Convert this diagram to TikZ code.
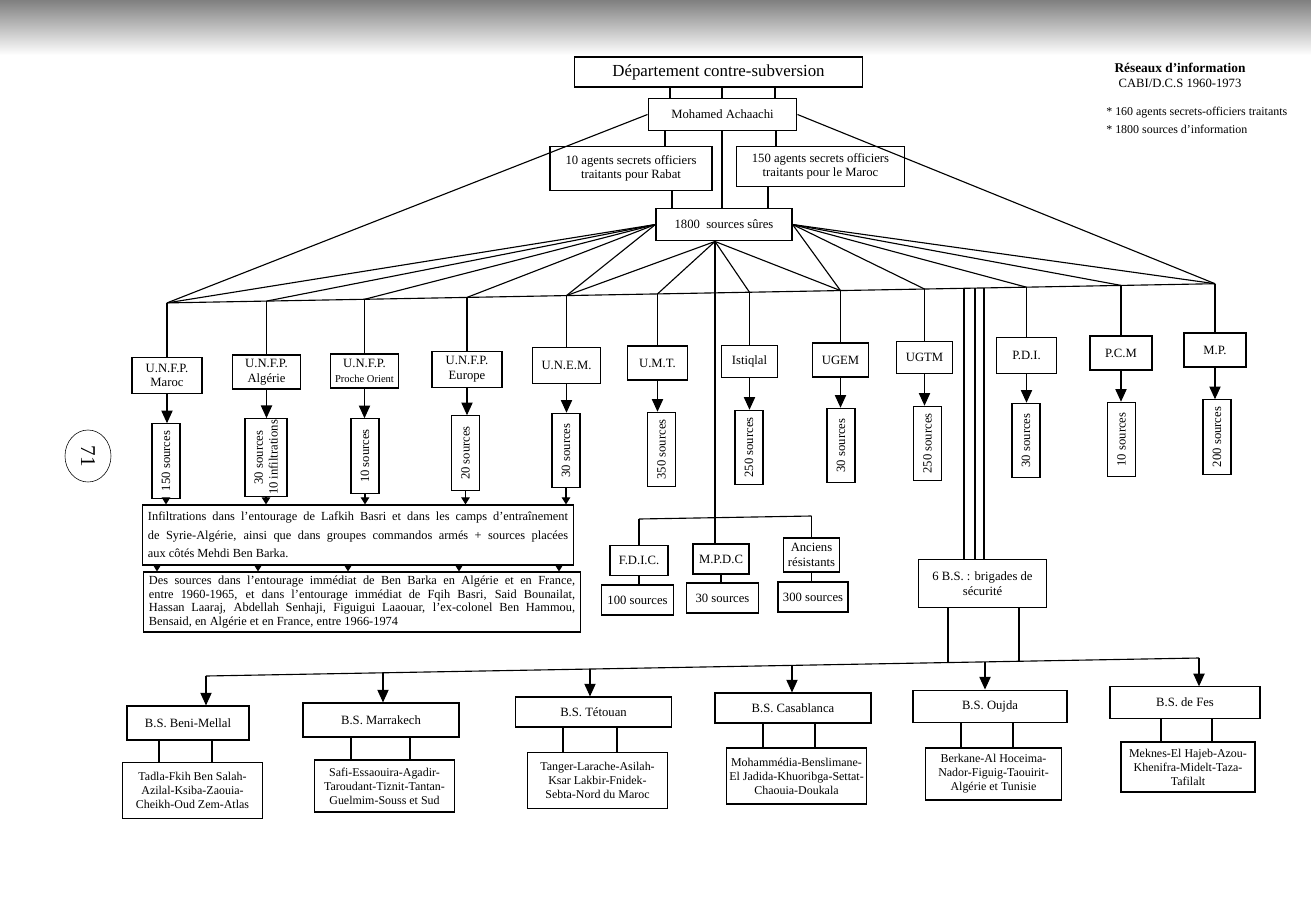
\documentclass[tikz,border=0pt]{standalone}
\usepackage{fontspec}
\setmainfont{Liberation Serif}
\usetikzlibrary{arrows.meta,calc,shapes.geometric}
\tikzset{box/.style={draw, line width=0.8pt, align=center, inner sep=1pt, font=\fontsize{9}{10.5}\selectfont},
% rotated source boxes: east is the visual top, west the visual bottom
srcbox/.style={box, rotate=90, minimum width=1.86cm, minimum height=0.7cm},
bsbox/.style={box, minimum height=0.8cm},
regbox/.style={box, font=\fontsize{8.5}{10}\selectfont},
ln/.style={line width=0.8pt},
arr/.style={line width=0.8pt, -{Triangle[length=9pt,width=8pt]}},
sarr/.style={line width=0.8pt, -{Triangle[length=5pt,width=6pt]}}}

\begin{document}
\begin{tikzpicture}[x=0.025cm,y=-0.025cm]
\useasboundingbox (0,0) rectangle (1311,922);
\fill[top color=black!50, bottom color=white] (0,0) rectangle (1311,55);

% legend
\node[font=\bfseries\fontsize{9.5}{11}\selectfont] (ttl) at (1180,68) {Réseaux d’information};
\node[font=\fontsize{9}{10}\selectfont] (per) at (1180,83) {CABI/D.C.S 1960-1973};
\node[font=\fontsize{8.5}{10}\selectfont, anchor=west, inner sep=0pt] (b1) at (1106,113) {* 160 agents secrets-officiers traitants};
\node[font=\fontsize{8.5}{10}\selectfont, anchor=west, inner sep=0pt] (b2) at (1106,129) {* 1800 sources d’information};

% page number
\node[draw, ellipse, minimum width=1.15cm, minimum height=1.3cm, inner sep=0pt, font=\fontsize{15}{16}\selectfont] (pg) at (88,456) {\rotatebox{-90}{71}};

% top of the chart
\node[box, font=\fontsize{12}{14}\selectfont, minimum width=7.18cm, minimum height=0.75cm] (dep) at (718.5,72) {Département contre-subversion};
\node[box, minimum width=3.72cm, minimum height=0.78cm] (moh) at (722.5,114.5) {Mohamed Achaachi};
\node[box, minimum width=4.05cm, minimum height=1.08cm] (rabat) at (631,168.5) {10 agents secrets officiers\\traitants pour Rabat};
\node[box, minimum width=4.22cm, minimum height=1.02cm] (maroc) at (820.5,166.5) {150 agents secrets officiers\\traitants pour le Maroc};
\node[box, minimum width=3.4cm, minimum height=0.82cm] (sures) at (724,224.5) {1800~~sources sûres};

\foreach \x in {670,722,775}
  \draw[ln] (\x,0 |- dep.south) -- (\x,0 |- moh.north);
\draw[ln] (665,0 |- moh.south) -- (665,0 |- rabat.north);
\draw[ln] (776,0 |- moh.south) -- (776,0 |- maroc.north);
\draw[ln] (722,0 |- moh.south) -- (722,0 |- sures.north);
\draw[ln] (672,0 |- rabat.south) -- (672,0 |- sures.north);
\draw[ln] (768,0 |- maroc.south) -- (768,0 |- sures.north);

% organisations
\node[box, minimum width=1.75cm, minimum height=0.88cm] (umar) at (167,375.5) {U.N.F.P.\\Maroc};
\node[box, minimum width=1.72cm, minimum height=0.85cm] (ualg) at (266.5,372) {U.N.F.P.\\Algérie};
\node[box, minimum width=1.72cm, minimum height=0.85cm] (upo) at (364.5,371) {U.N.F.P.\\{\fontsize{7.5}{8.5}\selectfont Proche Orient}};
\node[box, minimum width=1.75cm, minimum height=0.88cm] (ueur) at (467,369.5) {U.N.F.P.\\Europe};
\node[box, minimum width=1.72cm, minimum height=0.88cm] (unem) at (566.5,365.5) {U.N.E.M.};
\node[box, minimum width=1.52cm, minimum height=0.85cm] (umt) at (657.5,363) {U.M.T.};
\node[box, minimum width=1.42cm, minimum height=0.82cm] (ist) at (749.5,361.5) {Istiqlal};
\node[box, minimum width=1.42cm, minimum height=0.85cm] (ugem) at (840.5,360) {UGEM};
\node[box, minimum width=1.42cm, minimum height=0.82cm] (ugtm) at (924.5,357.5) {UGTM};
\node[box, minimum width=1.52cm, minimum height=0.88cm] (pdi) at (1026.5,355.5) {P.D.I.};
\node[box, minimum width=1.55cm, minimum height=0.85cm] (pcm) at (1121,353) {P.C.M};
\node[box, minimum width=1.55cm, minimum height=0.85cm] (mp) at (1215,350) {M.P.};

% bus
\coordinate (jmar) at (167,302.9);
\coordinate (jalg) at (266.5,301.1);
\coordinate (jpo) at (364.5,299.3);
\coordinate (jeur) at (467,297.4);
\coordinate (junem) at (566.5,295.6);
\coordinate (jumt) at (657.5,293.9);
\coordinate (jist) at (749.5,292.3);
\coordinate (jugem) at (840.5,290.6);
\coordinate (jugtm) at (924.5,289.0);
\coordinate (jpdi) at (1026.5,287.2);
\coordinate (jpcm) at (1121,285.4);
\coordinate (jmp) at (1215,283.7);
\draw[ln] (jmar) -- (jmp);
\foreach \j/\n in {jmar/umar,jalg/ualg,jpo/upo,jeur/ueur,junem/unem,jumt/umt,jist/ist,jugem/ugem,jugtm/ugtm,jpdi/pdi,jpcm/pcm,jmp/mp}
  \draw[ln] (\j) -- (\n.north);
\draw[ln] (moh.west) -- (jmar);
\draw[ln] (moh.east) -- (jmp);
\foreach \j in {jmar,jalg,jpo,jeur,junem}
  \draw[ln] (sures.west) -- (\j);
\coordinate (sb) at ($(sures.south)+(-9,0)$);
\foreach \j in {junem,jumt,jist,jugem}
  \draw[ln] (sb) -- (\j);
\foreach \j in {jugem,jugtm,jpdi,jpcm,jmp}
  \draw[ln] (sures.east) -- (\j);

% sources
\node[srcbox] (s1) at (166,461) {150 sources};
\node[srcbox, minimum height=1.05cm] (s2) at (266,457.5) {30 sources\\10 infiltrations};
\node[srcbox] (s3) at (365,456) {10 sources};
\node[srcbox] (s4) at (465.5,453) {20 sources};
\node[srcbox] (s5) at (566,450.5) {30 sources};
\node[srcbox] (s6) at (661.5,449.5) {350 sources};
\node[srcbox] (s7) at (749,447.5) {250 sources};
\node[srcbox] (s8) at (841,445.5) {30 sources};
\node[srcbox] (s9) at (927.5,443.5) {250 sources};
\node[srcbox] (s10) at (1026,440.5) {30 sources};
\node[srcbox] (s11) at (1121.5,439.5) {10 sources};
\node[srcbox] (s12) at (1217,437) {200 sources};
\foreach \a/\b in {umar/s1,ualg/s2,upo/s3,ueur/s4,unem/s5,umt/s6,ist/s7,ugem/s8,ugtm/s9,pdi/s10,pcm/s11,mp/s12}
  \draw[arr] (\a.south) -- (\a.south |- \b.east);

% infiltrations
\node[box, align=justify, text width=10.5cm, minimum height=1.5cm, inner xsep=4pt, font=\fontsize{8.8}{13}\selectfont] (inf) at (358,535) {Infiltrations dans l’entourage de Lafkih Basri et dans les camps d’entraînement\linebreak de Syrie-Algérie, ainsi que dans groupes commandos armés + sources placées\linebreak aux côtés Mehdi Ben Barka.};
\node[box, align=justify, text width=10.65cm, minimum height=1.5cm, inner xsep=4pt, font=\fontsize{8.8}{9.8}\selectfont] (des) at (362,602) {Des sources dans l’entourage immédiat de Ben Barka en Algérie et en France,\linebreak entre 1960-1965, et dans l’entourage immédiat de Fqih Basri, Said Bounailat,\linebreak Hassan Laaraj, Abdellah Senhaji, Figuigui Laaouar, l’ex-colonel Ben Hammou,\linebreak Bensaid, en Algérie et en France, entre 1966-1974};
\foreach \s in {s1,s2,s3,s4,s5}
  \draw[sarr] (\s.west) -- (\s.west |- inf.north);
\foreach \x in {157,258,348,459,559}
  \draw[sarr] (\x,0 |- inf.south) -- (\x,0 |- des.north);

% other groups
\node[box, minimum width=1.45cm, minimum height=0.73cm] (fdic) at (639,560.5) {F.D.I.C.};
\node[box, minimum width=1.4cm, minimum height=0.75cm] (mpdc) at (721,559) {M.P.D.C};
\node[box, minimum width=1.42cm, minimum height=0.85cm] (anc) at (811.5,555) {Anciens\\résistants};
\node[box, minimum width=1.78cm, minimum height=0.75cm] (f100) at (637.5,600) {100 sources};
\node[box, minimum width=1.78cm, minimum height=0.75cm] (m30) at (722.5,598) {30 sources};
\node[box, minimum width=1.75cm, minimum height=0.75cm] (a300) at (813,597) {300 sources};
\coordinate (kf) at (639,519);
\coordinate (km) at (715,517.5);
\coordinate (ka) at (811.5,516);
\draw[ln] (sb) -- (km);
\draw[ln] (kf) -- (ka);
\draw[ln] (kf) -- (fdic.north);
\draw[ln] (km) -- (km |- mpdc.north);
\draw[ln] (ka) -- (anc.north);
\draw[ln] (fdic.south) -- (fdic.south |- f100.north);
\draw[ln] (mpdc.south) -- (mpdc.south |- m30.north);
\draw[ln] (anc.south) -- (anc.south |- a300.north);

% brigades
\node[box, minimum width=3.22cm, minimum height=1.18cm] (bs) at (982.5,583.5) {6 B.S. : brigades de\\sécurité};
\foreach \x/\y in {964/288.3,975/288.1,984/287.9}
  \draw[ln] (\x,\y) -- (\x,0 |- bs.north);
\coordinate (bl) at (206,676);
\coordinate (br) at (1199,658);
\draw[ln] (bl) -- (br);
\draw[ln] (948,0 |- bs.south) -- (948,662.6);
\draw[ln] (1019,0 |- bs.south) -- (1019,661.3);

\node[bsbox, minimum width=3.05cm, minimum height=0.85cm] (bm) at (188,723) {B.S. Beni-Mellal};
\node[bsbox, minimum width=3.9cm, minimum height=0.85cm] (mk) at (381,720) {B.S. Marrakech};
\node[bsbox, minimum width=3.88cm, minimum height=0.75cm] (tt) at (593.5,712) {B.S. Tétouan};
\node[bsbox, minimum width=3.9cm, minimum height=0.75cm] (cs) at (793,708) {B.S. Casablanca};
\node[bsbox, minimum width=3.85cm, minimum height=0.82cm] (oj) at (990,706.5) {B.S. Oujda};
\node[bsbox, minimum width=3.75cm, minimum height=0.78cm] (fs) at (1185,702.5) {B.S. de Fes};
\foreach \x/\y/\n in {206/676/bm,383/672.8/mk,590/669/tt,792/665.4/cs,985/661.9/oj,1199/658/fs}
  \draw[arr] (\x,\y) -- (\x,0 |- \n.north);

\node[regbox, minimum width=3.52cm, minimum height=1.38cm] (bmd) at (192.5,790.5) {Tadla-Fkih Ben Salah-\\Azilal-Ksiba-Zaouia-\\Cheikh-Oud Zem-Atlas};
\node[regbox, minimum width=3.52cm, minimum height=1.3cm] (mkd) at (384.5,786) {Safi-Essaouira-Agadir-\\Taroudant-Tiznit-Tantan-\\Guelmim-Souss et Sud};
\node[regbox, minimum width=3.48cm, minimum height=1.38cm] (ttd) at (597.5,780.5) {Tanger-Larache-Asilah-\\Ksar Lakbir-Fnidek-\\Sebta-Nord du Maroc};
\node[regbox, minimum width=3.52cm, minimum height=1.4cm] (csd) at (796.5,776) {Mohammédia-Benslimane-\\El Jadida-Khuoribga-Settat-\\Chaouia-Doukala};
\node[regbox, minimum width=3.38cm, minimum height=1.3cm] (ojd) at (993.5,774) {Berkane-Al Hoceima-\\Nador-Figuig-Taouirit-\\Algérie et Tunisie};
\node[regbox, minimum width=3.35cm, minimum height=1.25cm] (fsd) at (1188,767) {Meknes-El Hajeb-Azou-\\Khenifra-Midelt-Taza-\\Tafilalt};
\foreach \x/\n/\d in {159/bm/bmd,212/bm/bmd,351/mk/mkd,410/mk/mkd,563/tt/ttd,617/tt/ttd,763/cs/csd,815/cs/csd,961/oj/ojd,1013/oj/ojd,1161/fs/fsd,1212/fs/fsd}
  \draw[ln] (\x,0 |- \n.south) -- (\x,0 |- \d.north);
\end{tikzpicture}
\end{document}
